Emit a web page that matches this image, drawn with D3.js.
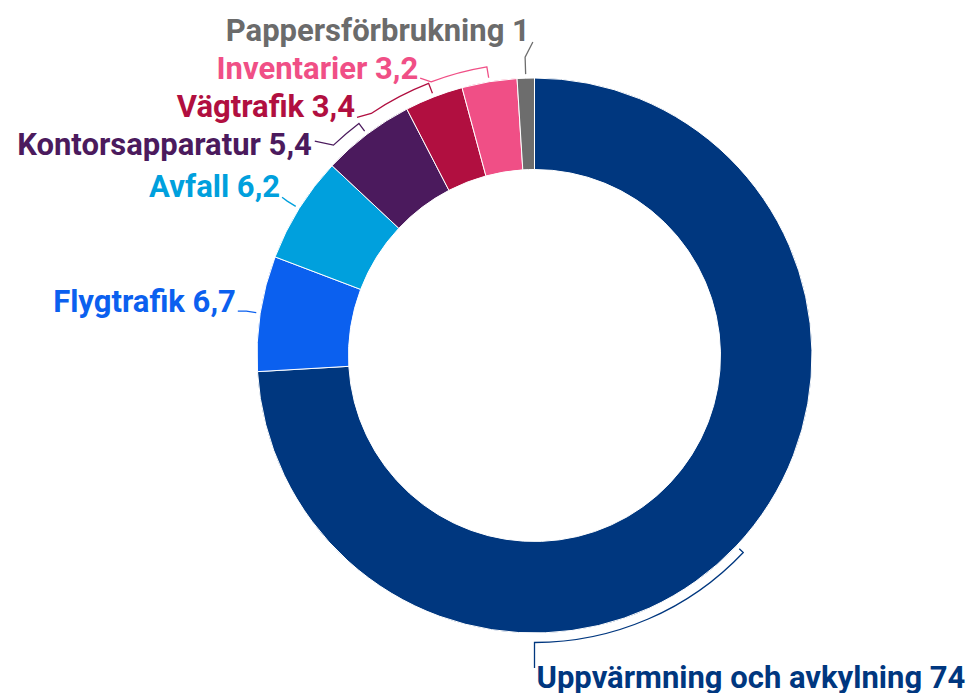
<!DOCTYPE html>
<html><head><meta charset="utf-8">
<script src="https://cdn.jsdelivr.net/npm/d3@7"></script>
<style>
html,body{margin:0;padding:0;background:#fff;}
svg{display:block;}
text{font-family:Roboto,"Noto Sans",sans-serif;font-weight:700;}
</style></head>
<body>
<div id="chart"></div>
<script>
// Data
const categories = ["Uppvärmning och avkylning","Flygtrafik","Avfall","Kontorsapparatur","Vägtrafik","Inventarier","Pappersförbrukning"];
const values = [74, 6.7, 6.2, 5.4, 3.4, 3.2, 1];
const valueLabels = ["74","6,7","6,2","5,4","3,4","3,2","1"];
const colors = ["#00377f","#0b60ef","#00a0dd","#4b1a5d","#b10f40","#f04f86","#6d6d6d"];
const textColors = ["#00377f","#0b60ef","#00a0dd","#4b1a5d","#b10f40","#f04f86","#6b6b6b"];

// Label layout (polar, degrees clockwise from top)
const labelAngle  = [180, 278.5, 302.1, 314.3, 323.3, 337.6, 359.7];
const labelRadius = [312.5, 300, 298, 307, 297, 300, 313.5];
const elbowAngle  = [180, null, null, 316.3, 326, 339.3, null];
const elbowRadius = [287, 291.5, 291.5, 291, 292, 292.5, 298.5];
const textDx = [2, -2, -2, -3, -2, -2, -3];
const textDy = [20, 1, 0, 14, 0, 1, -1];
const textAnchor = ["start","end","end","end","end","end","end"];

const W = 976, H = 693;
const cx = 534.5, cy = 355.5, R = 277.5, r0 = 186;

const svg = d3.select("#chart").append("svg").attr("width", W).attr("height", H);
const g = svg.append("g").attr("transform", `translate(${cx},${cy})`);

const pie = d3.pie().sort(null).value(d => d).startAngle(0).endAngle(2*Math.PI);
const arcs = pie(values);
const arcGen = d3.arc().innerRadius(r0).outerRadius(R);

g.selectAll("path.slice").data(arcs).join("path")
  .attr("class","slice")
  .attr("d", arcGen)
  .attr("fill", (d,i) => colors[i])
  .attr("stroke", "#fff").attr("stroke-width", 1);

const toRad = a => a * Math.PI / 180;
const polar = (aDeg, rad) => [rad*Math.sin(toRad(aDeg)), -rad*Math.cos(toRad(aDeg))];

arcs.forEach((d, i) => {
  const mid = ((d.startAngle + d.endAngle)/2) * 180/Math.PI;
  const er = elbowRadius[i];
  const ea = elbowAngle[i] == null ? mid : elbowAngle[i];
  const p = d3.path();
  const s = polar(mid, R + 4);
  p.moveTo(s[0], s[1]);
  const e0 = polar(mid, er);
  p.lineTo(e0[0], e0[1]);
  if (ea !== mid) {
    const t0 = toRad(mid - 90), t1 = toRad(ea - 90);
    p.arc(0, 0, er, t0, t1, ea < mid);
  }
  const L = polar(labelAngle[i], labelRadius[i]);
  p.lineTo(L[0], L[1]);
  g.append("path").attr("d", p.toString())
    .attr("fill","none").attr("stroke", colors[i]).attr("stroke-width", 1.3);

  g.append("text")
    .attr("x", L[0] + textDx[i]).attr("y", L[1] + textDy[i])
    .attr("text-anchor", textAnchor[i])
    .attr("font-size", 31)
    .attr("fill", textColors[i])
    .text(categories[i] + " " + valueLabels[i]);
});
</script>
</body></html>
